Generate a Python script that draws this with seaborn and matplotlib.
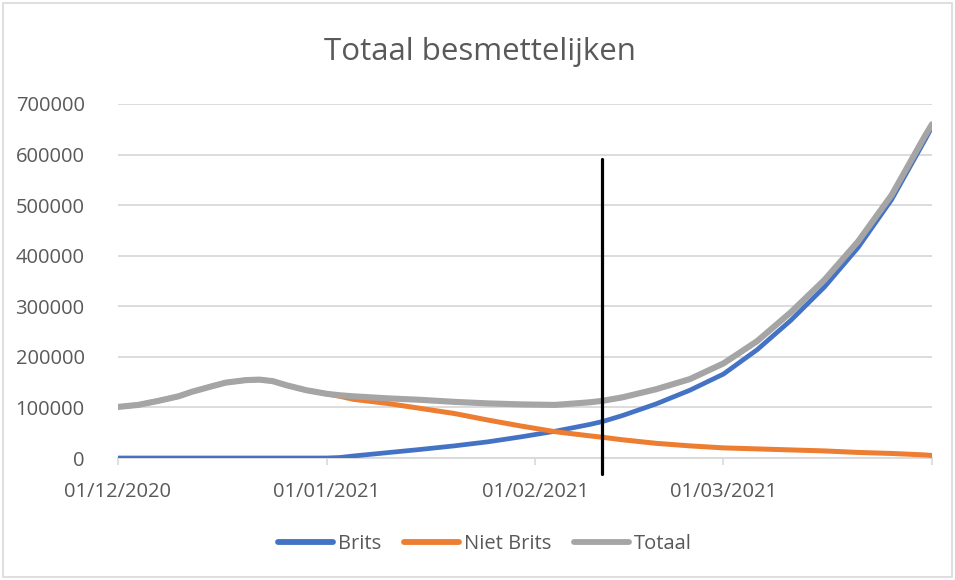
import matplotlib
matplotlib.use("Agg")
import matplotlib.pyplot as plt
import matplotlib.dates as mdates
from matplotlib.patches import Rectangle
from matplotlib.lines import Line2D
import seaborn as sns
import pandas as pd

# ---- data (values in units) ----
dates = ["2020-12-01", "2020-12-04", "2020-12-07", "2020-12-10", "2020-12-12",
         "2020-12-15", "2020-12-17", "2020-12-20", "2020-12-22", "2020-12-24",
         "2020-12-26", "2020-12-29", "2021-01-01", "2021-01-03", "2021-01-05",
         "2021-01-10", "2021-01-15", "2021-01-20", "2021-01-25", "2021-01-30",
         "2021-02-04", "2021-02-09", "2021-02-11", "2021-02-14", "2021-02-19",
         "2021-02-24", "2021-03-01", "2021-03-06", "2021-03-11", "2021-03-16",
         "2021-03-21", "2021-03-26", "2021-03-31", "2021-04-01"]
brits = [0, 0, 0, 0, 0, 0, 0, 0, 0, 0, 0, 0, 0,
         1000, 4000, 10500, 17000, 24000, 32000, 42000, 53000, 66000, 72000,
         84000, 107000, 134000, 166000, 214000, 272000, 338000, 416000,
         511000, 630000, 655000]
niet_brits = [101000, 105000, 113000, 122000, 131000, 142000, 149000, 154000,
              155000, 152000, 144000, 134000, 127000,
              122000, 116000, 108000, 98000, 88000, 75000, 63000, 52000, 44000,
              41000, 36000, 29000, 24000, 20000, 18000, 16000, 14000, 11000,
              9000, 6000, 5000]
totaal = [101000, 105000, 113000, 122000, 131000, 142000, 149000, 154000,
          155000, 152000, 144000, 134000, 127000,
          124000, 122000, 118000, 115000, 111000, 108000, 106000, 105000,
          110000, 113000, 120000, 136000, 156000, 187000, 231000, 288000,
          352000, 428000, 520000, 638000, 660000]
series_names = ["Brits", "Niet Brits", "Totaal"]
title = "Totaal besmettelijken"
x_ticks = ["2020-12-01", "2021-01-01", "2021-02-01", "2021-03-01", "2021-04-01"]
x_tick_labels = ["01/12/2020", "01/01/2021", "01/02/2021", "01/03/2021", ""]
y_ticks = [0, 100000, 200000, 300000, 400000, 500000, 600000, 700000]
marker_date = "2021-02-11"
marker_top = 591000
marker_bottom = -32000

# ---- build long-form frame ----
d = pd.to_datetime(dates)
df = pd.concat([
    pd.DataFrame({"datum": d, "waarde": brits, "reeks": series_names[0]}),
    pd.DataFrame({"datum": d, "waarde": niet_brits, "reeks": series_names[1]}),
    pd.DataFrame({"datum": d, "waarde": totaal, "reeks": series_names[2]}),
])

sns.set_style("white")
plt.rcParams["font.family"] = ["Open Sans", "DejaVu Sans"]

colors = {"Brits": "#4472C4", "Niet Brits": "#ED7D31", "Totaal": "#A5A5A5"}
widths = {"Brits": 3.4, "Niet Brits": 3.6, "Totaal": 4.4}
text_color = "#595959"
grid_color = "#D9D9D9"

fig = plt.figure(figsize=(9.55, 5.8), dpi=100)
ax = fig.add_axes([118 / 955, 1 - 458 / 580, (932 - 118) / 955, (458 - 104) / 580])

for name in series_names:
    sns.lineplot(data=df[df["reeks"] == name], x="datum", y="waarde",
                 color=colors[name], linewidth=widths[name], ax=ax,
                 legend=False, solid_capstyle="round", zorder=3)

ax.set_xlim(pd.Timestamp(x_ticks[0]), pd.Timestamp(x_ticks[-1]))
ax.set_ylim(0, 700000)
ax.set_xticks(pd.to_datetime(x_ticks))
ax.set_xticklabels(x_tick_labels)
ax.set_yticks(y_ticks)
ax.set_yticklabels([str(v) for v in y_ticks])
ax.set_xlabel("")
ax.set_ylabel("")

ax.grid(axis="y", color=grid_color, linewidth=1.3)
ax.grid(axis="x", visible=False)
for s in ["top", "right", "left"]:
    ax.spines[s].set_visible(False)
ax.spines["bottom"].set_color(grid_color)
ax.spines["bottom"].set_linewidth(1.3)
ax.set_axisbelow(True)

ax.tick_params(axis="x", colors=grid_color, length=5, width=1.2,
               labelcolor=text_color, labelsize=14.5, pad=12, direction="out",
               bottom=True)
ax.tick_params(axis="y", length=0, labelcolor=text_color, labelsize=14.5, pad=24)

# vertical marker line
ax.plot([pd.Timestamp(marker_date)] * 2, [marker_bottom, marker_top],
        color="black", linewidth=2.3, clip_on=False, zorder=5)

fig.text(0.503, 1 - 52 / 580, title, ha="center", va="center",
         fontsize=22.5, color=text_color)

handles = [Line2D([0], [0], color=colors[n], linewidth=4.2) for n in series_names]
fig.legend(handles, series_names, loc="center", bbox_to_anchor=(485 / 955, 1 - 544 / 580),
           ncol=3, frameon=False, fontsize=14.5, handlelength=2.75,
           handletextpad=0.25, columnspacing=1.1, labelcolor=text_color)

fig.patches.append(Rectangle((3 / 955, 3 / 580), 949 / 955, 574 / 580,
                             transform=fig.transFigure, fill=False,
                             edgecolor=grid_color, linewidth=1.2))

fig.savefig("out.png", dpi=100)
